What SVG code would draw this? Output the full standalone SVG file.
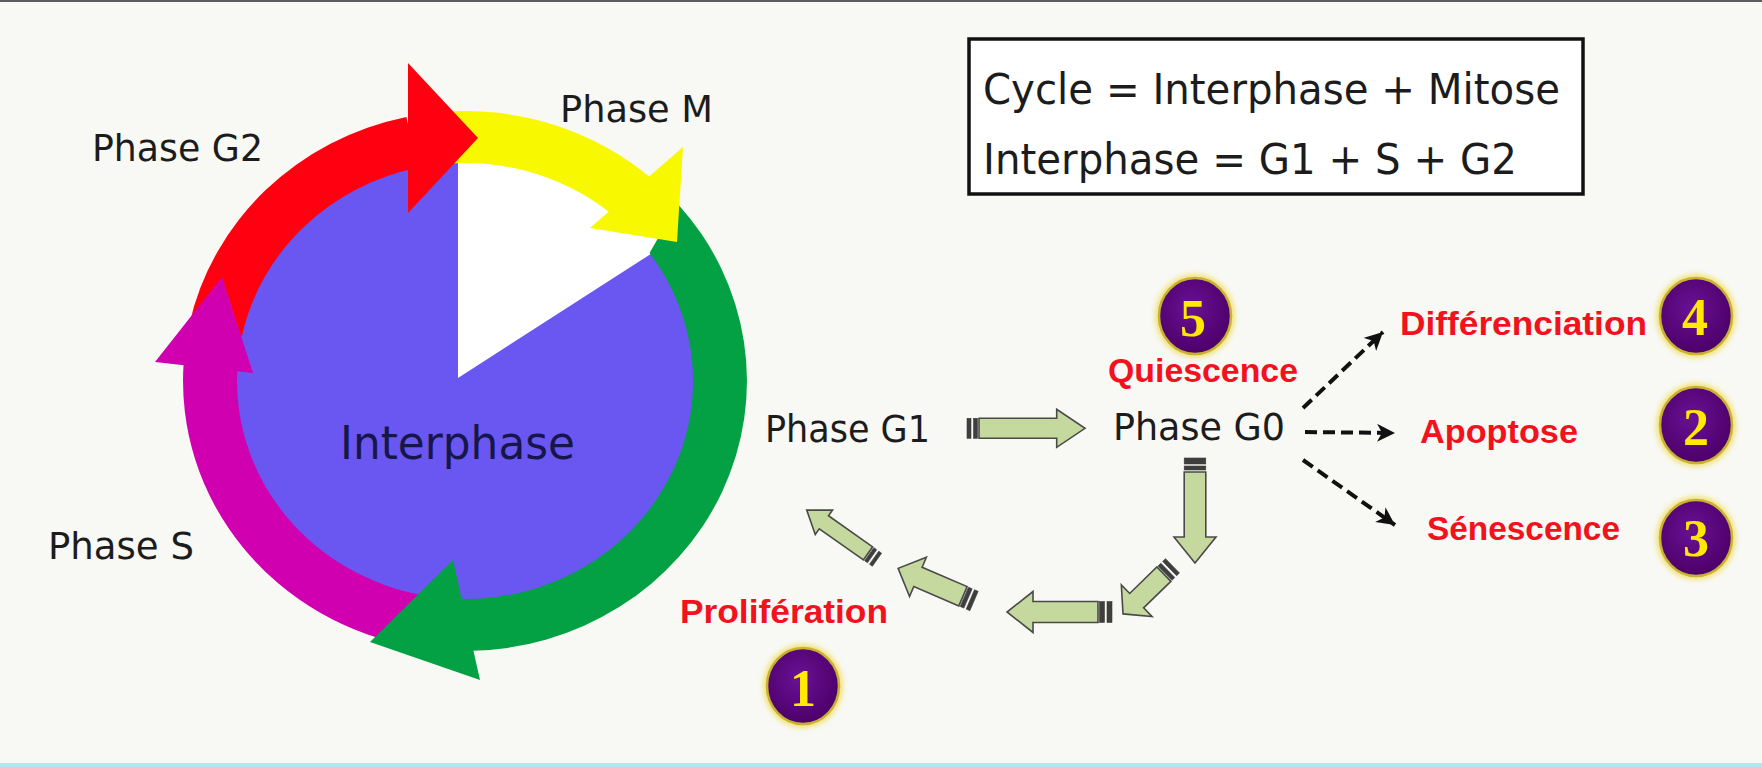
<svg xmlns="http://www.w3.org/2000/svg" width="1762" height="767" viewBox="0 0 1762 767">
<defs>
<style>
.ph{font-family:"DejaVu Sans","Liberation Sans",sans-serif;font-size:38px;fill:#1c1c1c}
.rd{font-family:"Liberation Sans Narrow","Liberation Sans",sans-serif;font-weight:bold;font-size:33px;fill:#F2121E}
.num{font-family:"Liberation Serif",serif;font-weight:bold;font-size:52px;fill:#FFEA00;text-anchor:middle}
.ba{fill:#C5D89D;stroke:#4a4a4a;stroke-width:1.6;stroke-linejoin:miter}
.st{fill:#3e3e3e;stroke:#3e3e3e;stroke-width:0.6}
.dash{fill:none;stroke:#111;stroke-width:4;stroke-dasharray:12 6;marker-end:url(#ah)}
.cbg{fill:#EEDC50;opacity:0.75}
.cfg{fill:url(#cg);stroke:#C9B132;stroke-width:2.5}
</style>
<marker id="ah" markerUnits="userSpaceOnUse" markerWidth="22" markerHeight="20" refX="18" refY="9" orient="auto">
<path d="M0,0 L18,9 L0,18 L5,9 Z" fill="#111"/>
</marker>
<radialGradient id="cg" cx="45%" cy="40%" r="60%">
<stop offset="0" stop-color="#6a1196"/>
<stop offset="1" stop-color="#4c0068"/>
</radialGradient>
<filter id="glow" x="-40%" y="-40%" width="180%" height="180%">
<feGaussianBlur stdDeviation="2.5"/>
</filter>
</defs>

<rect x="0" y="0" width="1762" height="767" fill="#F8F8F4"/>
<rect x="0" y="0" width="1762" height="2" fill="#5c5c5c"/>
<rect x="0" y="763" width="1762" height="4" fill="#A8ECEE"/>

<g id="cycle">
<ellipse cx="465" cy="381" rx="233" ry="223" fill="#6A56F0"/>
<path d="M458,378 L458,160 L600,172 L700,238 L657,250 Z" fill="#FFFFFF"/>
<path d="M189.2,324.9 A282 270 0 0 1 406.4,116.9 L417.6,167.8 A228 218 0 0 0 242,335.7 Z" fill="#FF0010"/>
<path d="M440.4,112 A282 270 0 0 1 653.7,180.4 L617.6,219 A228 218 0 0 0 445.1,163.8 Z" fill="#F8F800"/>
<path d="M677.8,203.9 A282 270 0 0 1 467.5,651 L459,599 A228 218 0 0 0 649.5,252.9 Z" fill="#04A044"/>
<path d="M416,646.9 A282 270 0 0 1 183.7,362.2 L237.6,365.8 A228 218 0 0 0 425.4,595.7 Z" fill="#D000B0"/>
<path d="M408,63 L478,138 L408,213 Z" fill="#FF0010"/>
<path d="M683,147 L677,242 L590,228 Z" fill="#F8F800"/>
<path d="M453,560 L480,680 L370,642 Z" fill="#04A044"/>
<path d="M155,362 L222,277 L253,373 Z" fill="#D000B0"/>
</g>

<g id="label-g2"><text class="ph" x="92" y="161" textLength="171" lengthAdjust="spacingAndGlyphs">Phase G2</text></g>
<g id="label-m"><text class="ph" x="560" y="122" textLength="153" lengthAdjust="spacingAndGlyphs">Phase M</text></g>
<g id="label-s"><text class="ph" x="48" y="559" textLength="146" lengthAdjust="spacingAndGlyphs">Phase S</text></g>
<g id="label-interphase"><text class="ph" x="340" y="459" style="font-size:46px;fill:#16164a" textLength="235" lengthAdjust="spacingAndGlyphs">Interphase</text></g>

<g id="formula-box">
<rect x="969" y="39" width="614" height="155" fill="#FFFFFF" stroke="#111" stroke-width="3.5"/>
<text class="ph" x="983" y="104" style="font-size:43px" textLength="577" lengthAdjust="spacingAndGlyphs">Cycle = Interphase + Mitose</text>
<text class="ph" x="983" y="174" style="font-size:43px" textLength="534" lengthAdjust="spacingAndGlyphs">Interphase = G1 + S + G2</text>
</g>

<g id="phase-g1"><text class="ph" x="765" y="442" style="font-size:37px" textLength="165" lengthAdjust="spacingAndGlyphs">Phase G1</text></g>
<g id="phase-g0"><text class="ph" x="1113" y="440" style="font-size:37px" textLength="172" lengthAdjust="spacingAndGlyphs">Phase G0</text></g>

<g id="quiescence">
<ellipse class="cbg" cx="1195" cy="316" rx="40" ry="42" filter="url(#glow)"/>
<ellipse class="cfg" cx="1195" cy="316" rx="36" ry="38"/>
<text class="num" x="1193" y="336">5</text>
<text class="rd" x="1108" y="382" textLength="190" lengthAdjust="spacingAndGlyphs">Quiescence</text>
</g>

<g id="differenciation">
<text class="rd" x="1400" y="335" textLength="247" lengthAdjust="spacingAndGlyphs">Différenciation</text>
<ellipse class="cbg" cx="1696" cy="316" rx="40" ry="42" filter="url(#glow)"/>
<ellipse class="cfg" cx="1696" cy="316" rx="36" ry="38"/>
<text class="num" x="1695" y="335">4</text>
</g>

<g id="apoptose">
<text class="rd" x="1420" y="443" textLength="158" lengthAdjust="spacingAndGlyphs">Apoptose</text>
<ellipse class="cbg" cx="1696" cy="425" rx="40" ry="42" filter="url(#glow)"/>
<ellipse class="cfg" cx="1696" cy="425" rx="36" ry="38"/>
<text class="num" x="1696" y="445">2</text>
</g>

<g id="senescence">
<text class="rd" x="1427" y="540" textLength="193" lengthAdjust="spacingAndGlyphs">Sénescence</text>
<ellipse class="cbg" cx="1696" cy="538" rx="40" ry="42" filter="url(#glow)"/>
<ellipse class="cfg" cx="1696" cy="538" rx="36" ry="38"/>
<text class="num" x="1696" y="556">3</text>
</g>

<g id="proliferation">
<text class="rd" x="680" y="623" textLength="208" lengthAdjust="spacingAndGlyphs">Prolifération</text>
<ellipse class="cbg" cx="803" cy="686" rx="40" ry="42" filter="url(#glow)"/>
<ellipse class="cfg" cx="803" cy="686" rx="36" ry="38"/>
<text class="num" x="803" y="706">1</text>
</g>

<g id="connectors">
<g transform="translate(967,428.3)">
<path class="ba" d="M12,-10 H89.7 V-19 L118,0 L89.7,19 V10 H12 Z"/>
<rect class="st" x="0" y="-10" width="4" height="20"/><rect class="st" x="6.5" y="-10" width="4" height="20"/>
</g>
<g transform="translate(1195,458) rotate(90)">
<path class="ba" d="M14,-10.8 H79 V-21 L105,0 L79,21 V10.8 H14 Z"/>
<rect class="st" x="0" y="-10.8" width="6" height="21.6"/><rect class="st" x="8" y="-10.8" width="4" height="21.6"/>
</g>
<g transform="translate(1172.5,565.8) rotate(135.8)">
<path class="ba" d="M12,-10 H50 V-22 L69,0 L50,22 V10 H12 Z"/>
<rect class="st" x="0" y="-10" width="4" height="20"/><rect class="st" x="6.5" y="-10" width="4" height="20"/>
</g>
<g transform="translate(1112,612) rotate(180)">
<path class="ba" d="M14,-10.5 H79 V-20.5 L105,0 L79,20.5 V10.5 H14 Z"/>
<rect class="st" x="0" y="-10.5" width="5" height="21"/><rect class="st" x="7.5" y="-10.5" width="5" height="21"/>
</g>
<g transform="translate(974,601) rotate(203.3)">
<path class="ba" d="M12,-10.5 H61 V-21.3 L82.6,0 L61,21.3 V10.5 H12 Z"/>
<rect class="st" x="0" y="-10.5" width="4" height="21"/><rect class="st" x="6.5" y="-10.5" width="4" height="21"/>
</g>
<g transform="translate(877,559.7) rotate(215.2)">
<path class="ba" d="M11,-8 H65 V-15 L86,0 L65,15 V8 H11 Z"/>
<rect class="st" x="0" y="-8" width="3.5" height="16"/><rect class="st" x="6" y="-8" width="3.5" height="16"/>
</g>
<path class="dash" d="M1303,408 L1383,332"/>
<path class="dash" d="M1305,432 L1395,433"/>
<path class="dash" d="M1303,460 L1395,525"/>
</g>
</svg>
